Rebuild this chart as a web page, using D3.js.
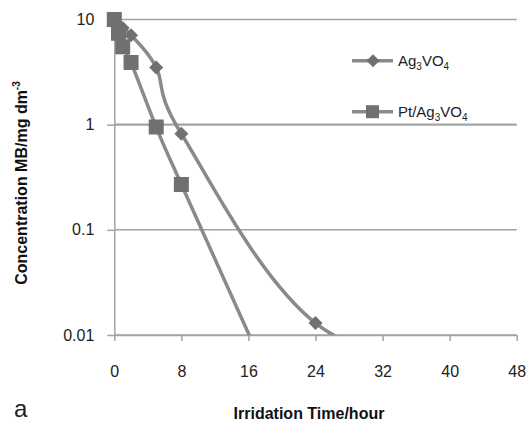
<!DOCTYPE html>
<html>
<head>
<meta charset="utf-8">
<script src="https://cdn.jsdelivr.net/npm/d3@7/dist/d3.min.js"></script>
<style>
  html, body { margin: 0; padding: 0; background: #fff; }
  svg { display: block; }
</style>
</head>
<body>
<svg id="chart" width="528" height="423"></svg>
<script>
// ---- data ----
const agTime  = [0, 1, 2, 5, 8, 24, 48];
const agConc  = [10, 8.3, 7.1, 3.5, 0.82, 0.013, 0.0025];
const ptTime  = [0, 0.5, 1, 2, 5, 8, 24];
const ptConc  = [10, 7.4, 5.5, 3.9, 0.95, 0.27, 0.0004];
const xTicks  = [0, 8, 16, 24, 32, 40, 48];
const yTicks  = [0.01, 0.1, 1, 10];
const yTickLabels = ["0.01", "0.1", "1", "10"];
const seriesNames = [["Ag", "3", "VO", "4"], ["Pt/Ag", "3", "VO", "4"]];

// ---- layout ----
const svg = d3.select("#chart");
const x = d3.scaleLinear().domain([0, 48]).range([114.3, 516.7]);
const y = d3.scaleLog().domain([0.01, 10]).range([335, 19.5]);
const gridColor = "#a3a3a3";
const lineColor = "#8a8a8a";
const markColor = "#707070";
const tickFont = "'Liberation Sans', Arial, sans-serif";

svg.append("defs").append("clipPath").attr("id", "clipLine")
  .append("rect").attr("x", 0).attr("y", 0).attr("width", 528).attr("height", y(0.01));
svg.select("defs").append("clipPath").attr("id", "clipMark")
  .append("rect").attr("x", 0).attr("y", 0).attr("width", 528).attr("height", y(0.01) + 8);

// gridlines
svg.append("g").selectAll("line").data(yTicks).join("line")
  .attr("x1", x(0)).attr("x2", x(48))
  .attr("y1", d => y(d)).attr("y2", d => y(d))
  .attr("stroke", gridColor)
  .attr("stroke-width", d => d === 1 ? 2.4 : 1.5);

// y axis
const yAxis = svg.append("g").attr("transform", `translate(${x(0)},0)`)
  .call(d3.axisLeft(y).tickValues(yTicks).tickFormat((d, i) => yTickLabels[i])
    .tickSize(7).tickSizeOuter(0).tickPadding(13));
yAxis.select(".domain").attr("stroke", gridColor).attr("stroke-width", 1.5);
yAxis.selectAll(".tick line").attr("stroke", gridColor).attr("stroke-width", 1.5);
yAxis.selectAll(".tick text").attr("font-family", tickFont).attr("font-size", 16).attr("fill", "#222");

// x axis
const xAxis = svg.append("g").attr("transform", `translate(0,${y(0.01)})`)
  .call(d3.axisBottom(x).tickValues(xTicks).tickSize(6).tickSizeOuter(0).tickPadding(25));
xAxis.select(".domain").attr("stroke", gridColor).attr("stroke-width", 1.5);
xAxis.selectAll(".tick line").attr("stroke", gridColor).attr("stroke-width", 1.5);
xAxis.selectAll(".tick text").attr("font-family", tickFont).attr("font-size", 16).attr("fill", "#222");

// series
const curve = d3.curveCardinal.tension(0);
const line = d3.line().x(d => x(d[0])).y(d => y(d[1])).curve(curve);
const agData = agTime.map((t, i) => [t, agConc[i]]);
const ptData = ptTime.map((t, i) => [t, ptConc[i]]);

const diamond = r => `M0,${-r}L${r},0L0,${r}L${-r},0Z`;

svg.append("path").datum(agData).attr("d", line)
  .attr("fill", "none").attr("stroke", lineColor).attr("stroke-width", 3.5)
  .attr("clip-path", "url(#clipLine)");
svg.append("g").attr("clip-path", "url(#clipMark)")
  .selectAll("path").data(agData).join("path")
  .attr("transform", d => `translate(${x(d[0])},${y(d[1])})`)
  .attr("d", diamond(7)).attr("fill", markColor);

svg.append("path").datum(ptData).attr("d", line)
  .attr("fill", "none").attr("stroke", lineColor).attr("stroke-width", 3.5)
  .attr("clip-path", "url(#clipLine)");
svg.append("g").attr("clip-path", "url(#clipMark)")
  .selectAll("rect").data(ptData).join("rect")
  .attr("x", d => x(d[0]) - 7.5).attr("y", d => y(d[1]) - 7.5)
  .attr("width", 15).attr("height", 15).attr("fill", markColor);

// legend
const legY = [60.7, 111.7];
const leg = svg.append("g");
seriesNames.forEach((parts, i) => {
  const g = leg.append("g").attr("transform", `translate(0,${legY[i]})`);
  g.append("line").attr("x1", 352).attr("x2", 393).attr("y1", 0).attr("y2", 0)
    .attr("stroke", lineColor).attr("stroke-width", 3.5);
  if (i === 0) {
    g.append("path").attr("transform", "translate(373,0)").attr("d", diamond(6.5)).attr("fill", markColor);
  } else {
    g.append("rect").attr("x", 366).attr("y", -6.5).attr("width", 13).attr("height", 13).attr("fill", markColor);
  }
  const t = g.append("text").attr("x", 398).attr("y", 5.5)
    .attr("font-family", tickFont).attr("font-size", 15).attr("fill", "#222");
  t.append("tspan").text(parts[0]);
  t.append("tspan").attr("font-size", 10).attr("dy", 4).text(parts[1]);
  t.append("tspan").attr("dy", -4).text(parts[2]);
  t.append("tspan").attr("font-size", 10).attr("dy", 4).text(parts[3]);
});

// axis titles
const yt = svg.append("text")
  .attr("transform", "translate(27,183) rotate(-90)")
  .attr("text-anchor", "middle")
  .attr("font-family", tickFont).attr("font-weight", "bold").attr("font-size", 16).attr("fill", "#111");
yt.append("tspan").text("Concentration MB/mg dm");
yt.append("tspan").attr("font-size", 10).attr("dy", -7).text("-3");

svg.append("text").attr("x", 309).attr("y", 419).attr("text-anchor", "middle")
  .attr("font-family", tickFont).attr("font-weight", "bold").attr("font-size", 16).attr("fill", "#111")
  .text("Irridation Time/hour");

svg.append("text").attr("x", 14).attr("y", 417)
  .attr("font-family", tickFont).attr("font-size", 24).attr("fill", "#222")
  .text("a");
</script>
</body>
</html>
